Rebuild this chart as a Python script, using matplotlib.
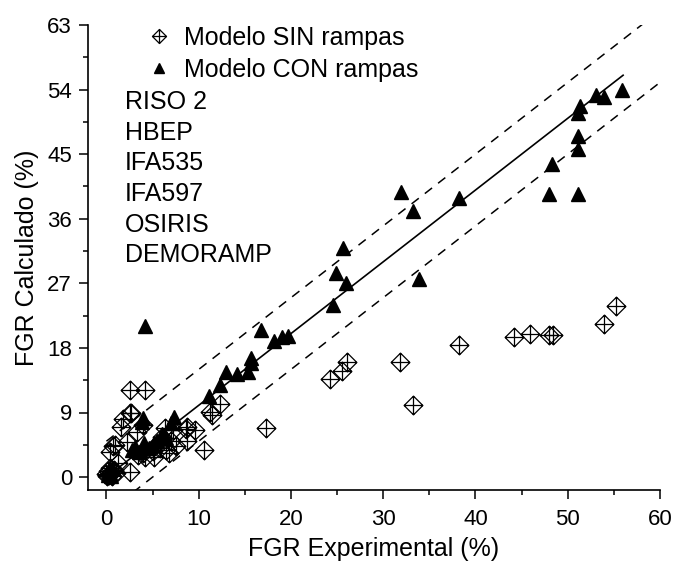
import matplotlib
matplotlib.use("Agg")
import matplotlib.pyplot as plt
from matplotlib.path import Path
import numpy as np

plt.rcParams['font.family'] = ['Liberation Sans', 'DejaVu Sans']

# Modelo SIN rampas (diamond with cross)
sin_x = [0.1, 0.3, 0.5, 0.2, 0.6, 0.8, 0.4, 1.0, 0.0, 0.7,
         2.5, 1.3, 0.7, 0.9, 0.36, 2.2, 1.6, 1.8, 2.5, 2.7, 3.3, 2.6, 4.15,
         3.4, 4.2, 4.0, 5.2, 5.0, 5.5, 6.0, 6.5, 7.0, 7.2, 6.3, 5.8, 7.5, 6.8,
         4.0, 8.6, 9.6, 8.7, 8.7, 10.6, 11.2, 11.4, 12.3,
         17.3, 24.2, 25.5, 26.1, 31.8, 33.2, 38.2, 44.2, 45.9, 48.0, 48.4,
         53.9, 55.2]
sin_y = [0.1, 0.3, 0.5, 0.8, 0.2, 1.0, 1.3, 0.6, 0.4, 0.9,
         0.7, 2.0, 4.4, 4.5, 3.5, 4.9, 7.0, 8.1, 8.9, 9.0, 6.3, 12.1, 12.1,
         3.1, 2.8, 3.3, 2.8, 3.6, 4.6, 5.6, 3.8, 5.0, 6.6, 6.9, 4.1, 4.3, 3.4,
         7.2, 6.7, 6.6, 5.0, 7.0, 3.8, 9.1, 8.6, 10.2,
         6.9, 13.6, 14.8, 16.0, 16.0, 10.1, 18.4, 19.5, 19.9, 19.8, 19.8,
         21.4, 23.8]

# Modelo CON rampas (filled triangles)
con_x = [0.2, 0.4, 0.5, 0.3, 0.6, 2.8, 3.1, 3.5, 4.1, 3.8, 4.0, 4.2,
         4.6, 5.0, 5.5, 6.0, 6.5, 7.0, 7.3,
         11.1, 12.3, 13.0, 14.1, 15.3, 15.7, 15.7, 16.8, 18.2, 19.0, 19.7,
         24.6, 24.9, 26.0, 25.6, 31.9, 33.2, 33.9, 38.2,
         48.0, 51.1, 48.3, 51.1, 51.1, 51.1, 51.3, 53.1, 53.9, 55.9]
con_y = [0.3, 0.6, 0.2, 0.9, 1.2, 3.8, 4.2, 3.5, 4.7, 7.7, 8.2, 21.0,
         4.0, 4.5, 5.0, 6.0, 5.5, 7.5, 8.4,
         11.3, 12.8, 14.7, 14.4, 14.7, 15.9, 16.6, 20.5, 18.9, 19.5, 19.6,
         24.0, 28.4, 27.0, 31.9, 39.7, 37.1, 27.6, 38.9,
         39.5, 39.4, 43.6, 45.7, 47.6, 50.7, 51.7, 53.3, 53.0, 54.0]

campaigns = ["RISO 2", "HBEP", "IFA535", "IFA597", "OSIRIS", "DEMORAMP"]
x_ticks = [0, 10, 20, 30, 40, 50, 60]
y_ticks = [0, 9, 18, 27, 36, 45, 54, 63]

W, H = 674, 566
fig = plt.figure(figsize=(W / 100, H / 100), dpi=100)
ax = fig.add_axes([88 / W, 1 - 490 / H, (660 - 88) / W, (490 - 25) / H])

# diamond-with-cross marker
verts = [(0, 1), (1, 0), (0, -1), (-1, 0), (0, 1),
         (0, 1), (0, -1), (-1, 0), (1, 0)]
codes = [Path.MOVETO, Path.LINETO, Path.LINETO, Path.LINETO, Path.CLOSEPOLY,
         Path.MOVETO, Path.LINETO, Path.MOVETO, Path.LINETO]
dmark = Path(verts, codes)

# reference lines
lx = np.array([0, 60])
ax.plot([0, 56], [0, 56], color='black', lw=1.2, zorder=1)
ax.plot(lx, lx + 5, color='black', lw=1.1, ls=(0, (6, 5)), zorder=1)
ax.plot(lx, lx - 5, color='black', lw=1.1, ls=(0, (6, 5)), zorder=1)

ax.plot(sin_x, sin_y, ls='none', marker=dmark, ms=13.5, mfc='none', mec='black',
        mew=0.9, label='Modelo SIN rampas', zorder=3)
ax.plot(con_x, con_y, ls='none', marker='^', ms=10, mfc='black', mec='black',
        label='Modelo CON rampas', zorder=4)

ax.set_xlim(-2, 60)
ax.set_ylim(-1.8, 63)
ax.set_xticks(x_ticks)
ax.set_yticks(y_ticks)
ax.set_xticks(np.arange(5, 60, 10), minor=True)
ax.set_yticks(np.arange(4.5, 63, 9), minor=True)
ax.tick_params(axis='both', which='major', direction='out', length=6.5, width=1.1,
               labelsize=16, pad=5)
ax.tick_params(axis='x', which='major', pad=7)
ax.tick_params(axis='both', which='minor', direction='out', length=3.8, width=1.1)
for s in ['top', 'right']:
    ax.spines[s].set_visible(False)
for s in ['left', 'bottom']:
    ax.spines[s].set_linewidth(1.2)

ax.set_xlabel('FGR Experimental (%)', fontsize=18, labelpad=5)
ax.set_ylabel('FGR Calculado (%)', fontsize=18, labelpad=6)

leg = ax.legend(loc='upper left', bbox_to_anchor=(146 / W, 1 - 26 / H),
                bbox_transform=fig.transFigure, frameon=False, fontsize=18,
                markerscale=0.75, handlelength=1.0, handletextpad=0.5,
                labelspacing=0.3, borderaxespad=0, borderpad=0)

for i, t in enumerate(campaigns):
    yp = 102 + i * 30.7
    fig.text(125 / W, 1 - yp / H, t, fontsize=18, va='center', ha='left')

fig.savefig('out.png', dpi=100)
